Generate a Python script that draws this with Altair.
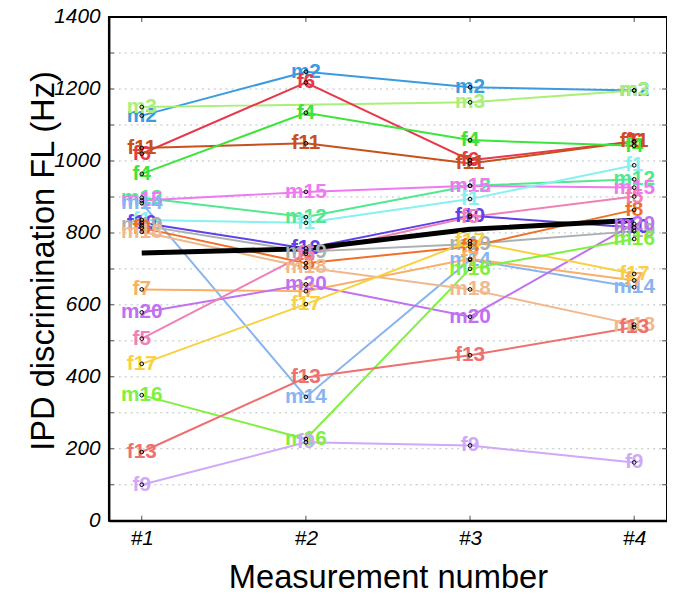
import altair as alt
import pandas as pd

# ---------------- data ----------------
stages = [1, 2, 3, 4]
subjects = ["m2", "m3", "f6", "f11", "f4", "m12", "m15", "m14", "f1", "f10",
            "m19", "f8", "m18", "f7", "m20", "f5", "f17", "m16", "f13", "f9"]
colors = ["#3b9be0", "#a8f078", "#e8384c", "#c8501a", "#3ce43c", "#50e890",
          "#f078f0", "#88b4f0", "#88f0f0", "#6040e8", "#a8b0b0", "#f07028",
          "#f0b88c", "#f8b068", "#c070f0", "#f080b8", "#f8d040", "#80f040",
          "#f07070", "#d0a8f8"]

m2 = [1126, 1248, 1205, 1196]
m3 = [1150, None, 1163, 1196]
f6 = [1020, 1218, 1002, 1054]
f11 = [1036, 1049, 993, 1054]
f4 = [964, 1134, 1058, 1042]
m12 = [898, 844, 931, 949]
m15 = [890, 914, 931, 926]
m14 = [883, 344, 725, 649]
f1 = [836, 828, 894, 988]
f10 = [828, 757, 848, 815]
m19 = [821, 748, 769, 805]
f8 = [814, 716, 762, 864]
m18 = [803, 704, 643, 545]
f7 = [643, 638, 728, 668]
m20 = [579, 657, 567, 825]
f5 = [506, 742, 844, 901]
f17 = [436, 602, 777, 686]
m16 = [349, 227, 700, 783]
f13 = [191, 398, 460, 538]
f9 = [100, 218, 209, 162]
mean_values = [744, 756, 810, 835]

y_label_values = [0, 200, 400, 600, 800, 1000, 1200, 1400]
grid_values = [100, 200, 300, 400, 500, 600, 700, 800, 900, 1000, 1100, 1200, 1300]
x_domain = [0.8, 4.2]
y_domain = [0, 1400]

series = {"m2": m2, "m3": m3, "f6": f6, "f11": f11, "f4": f4, "m12": m12,
          "m15": m15, "m14": m14, "f1": f1, "f10": f10, "m19": m19, "f8": f8,
          "m18": m18, "f7": f7, "m20": m20, "f5": f5, "f17": f17, "m16": m16,
          "f13": f13, "f9": f9}

rows = []
for s in subjects:
    for st, v in zip(stages, series[s]):
        if v is not None:
            rows.append({"subject": s, "stage": st, "value": v})
df = pd.DataFrame(rows)
mean_df = pd.DataFrame({"stage": stages, "value": mean_values})
grid_df = pd.DataFrame({"value": grid_values})
side_ticks = pd.DataFrame([{"stage": x, "value": v} for x in x_domain for v in grid_values])
tb_ticks = pd.DataFrame([{"stage": s, "value": v} for s in stages for v in y_domain])

FONT = "Liberation Sans"

X = alt.X("stage:Q",
          scale=alt.Scale(domain=x_domain, nice=False, zero=False),
          axis=alt.Axis(values=stages, labelExpr="'#' + datum.value",
                        title="Measurement number", ticks=False, grid=False,
                        domain=True, domainColor="black", domainWidth=2,
                        labelFontSize=21, labelFontStyle="italic",
                        labelPadding=7, labelColor="black", labelFont=FONT,
                        titleFont=FONT, titleFontSize=33, titleFontWeight="normal",
                        titleColor="black", titleBaseline="alphabetic", titleY=67))
Y = alt.Y("value:Q",
          scale=alt.Scale(domain=y_domain, nice=False),
          axis=alt.Axis(values=y_label_values, format="d",
                        title="IPD discrimination FL (Hz)",
                        ticks=False, grid=False, domain=True, domainColor="black",
                        domainWidth=2, labelFontSize=21,
                        labelFontStyle="italic", labelPadding=9, labelColor="black",
                        labelFont=FONT, titleFont=FONT, titleFontSize=33,
                        titleFontWeight="normal", titleColor="black",
                        titleBaseline="alphabetic", titleX=-56, titleY=246))
C = alt.Color("subject:N", scale=alt.Scale(domain=subjects, range=colors), legend=None)

grid = alt.Chart(grid_df).mark_rule(color="#b8c0c0", strokeDash=[2, 4], strokeWidth=1).encode(y=Y)
lines = alt.Chart(df).mark_line(strokeWidth=2).encode(x=X, y=Y, color=C, order="stage:Q")
mean_line = alt.Chart(mean_df).mark_line(color="black", strokeWidth=5).encode(x=X, y=Y)
labels = alt.Chart(df).mark_text(font=FONT, fontSize=21, fontWeight="bold",
                                 align="center", baseline="middle").encode(
    x=X, y=Y, text="subject:N", color=C)
points = alt.Chart(df).mark_point(shape="circle", filled=False, color="black",
                                  size=14, strokeWidth=1, opacity=1).encode(x=X, y=Y)
ticks_lr = alt.Chart(side_ticks).mark_tick(orient="horizontal", size=10, thickness=1,
                                           color="black", clip=True).encode(x=X, y=Y)
ticks_tb = alt.Chart(tb_ticks).mark_tick(orient="vertical", size=10, thickness=1,
                                         color="black", clip=True).encode(x=X, y=Y)

chart = alt.layer(grid, lines, mean_line, labels, points, ticks_lr, ticks_tb).properties(
    width=564, height=509,
    background="white",
    autosize=alt.AutoSizeParams(type="none"),
    padding={"left": 102, "top": 6, "right": 0, "bottom": 80},
).configure_view(stroke="black", strokeWidth=2)

chart.save("out.html", embed_options={"renderer": "svg", "actions": False})
